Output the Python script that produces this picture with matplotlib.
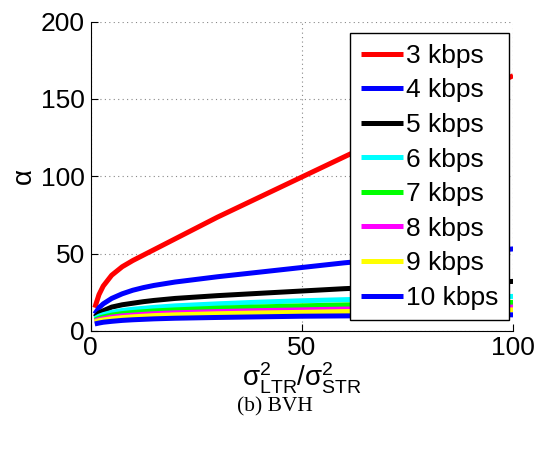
import matplotlib
matplotlib.use("Agg")
import matplotlib.pyplot as plt

matplotlib.rcParams.update({
    'font.family': ['Liberation Sans', 'DejaVu Sans'],
    'mathtext.fontset': 'custom',
    'mathtext.rm': 'Liberation Sans',
    'mathtext.it': 'Liberation Sans',
    'mathtext.bf': 'Liberation Sans:bold',
})

# values
ratio = [1, 2, 3, 5, 7.5, 10, 12.5, 15, 20, 30, 40, 50, 60, 70, 80, 90, 100]
alpha_3k = [15, 23.5, 29, 36, 41.5, 45.5, 49, 52.5, 59.5, 73.5, 86.5, 99.5, 112.5, 125.5, 139, 152, 165]
alpha_4k = [11, 15, 17.5, 21, 24, 26.3, 28, 29.4, 31.6, 35, 38, 41, 44, 46.5, 49, 51, 53]
alpha_5k = [9, 11.5, 13, 15.4, 16.9, 17.9, 18.9, 19.7, 21, 22.8, 24.3, 25.8, 27.3, 28.5, 29.8, 31, 32]
alpha_6k = [8, 9.5, 10.5, 12, 13.2, 14, 14.6, 15.2, 16.2, 17.5, 18.6, 19.5, 20.2, 20.8, 21.4, 21.9, 22.3]
alpha_7k = [7, 8.2, 9, 10.2, 11.2, 11.9, 12.4, 12.9, 13.6, 14.7, 15.5, 16.2, 16.8, 17.3, 17.7, 18.1, 18.4]
alpha_8k = [6.3, 7.3, 7.9, 8.9, 9.7, 10.2, 10.7, 11.1, 11.7, 12.5, 13.1, 13.6, 14.1, 14.5, 14.8, 15.1, 15.4]
alpha_9k = [5.8, 6.6, 7.1, 7.9, 8.6, 9.1, 9.5, 9.9, 10.4, 11.1, 11.6, 12, 12.5, 12.8, 13.1, 13.4, 13.6]
alpha_10k = [4.5, 5.1, 5.6, 6.2, 6.8, 7.2, 7.5, 7.8, 8.2, 8.7, 9.1, 9.5, 9.7, 9.9, 10.1, 10.3, 10.4]

series = [alpha_3k, alpha_4k, alpha_5k, alpha_6k, alpha_7k, alpha_8k, alpha_9k, alpha_10k]
labels = ['3 kbps', '4 kbps', '5 kbps', '6 kbps', '7 kbps', '8 kbps', '9 kbps', '10 kbps']
colors = ['#ff0000', '#0000ff', '#000000', '#00ffff', '#00ff00', '#ff00ff', '#ffff00', '#0000ff']

fig = plt.figure(figsize=(5.39, 4.49), dpi=100)
ax = fig.add_axes([0.168, 0.263, 0.784, 0.689])

for y, lab, c in zip(series, labels, colors):
    ax.plot(ratio, y, color=c, lw=3.6, label=lab, solid_capstyle='butt')

ax.set_xlim(0, 100)
ax.set_ylim(0, 200)
ax.set_xticks([0, 50, 100])
ax.set_yticks([0, 50, 100, 150, 200])
ax.grid(True, color='#888888', linestyle=(0, (1, 3)), linewidth=0.8)
ax.spines['top'].set_visible(False)
ax.spines['right'].set_visible(False)
ax.tick_params(direction='in', length=5, labelsize=19, pad=4)

ax.set_ylabel('α', fontsize=20, labelpad=3)
ax.set_xlabel(r'$\mathrm{σ}^2_{\mathrm{LTR}}/\mathrm{σ}^2_{\mathrm{STR}}$', fontsize=20, labelpad=0)

leg = ax.legend(loc='upper left', bbox_to_anchor=(0.614, 0.962), borderaxespad=0,
                fontsize=19, fancybox=False, framealpha=1, edgecolor='black',
                handlelength=1.6, handletextpad=0.12, labelspacing=0.4, borderpad=0.4)
leg.get_frame().set_linewidth(1.0)

fig.text(0.51, 0.094, '(b) BVH', ha='center', va='center', fontsize=15.5,
         family='Liberation Serif')

fig.savefig('out.png', dpi=100)
